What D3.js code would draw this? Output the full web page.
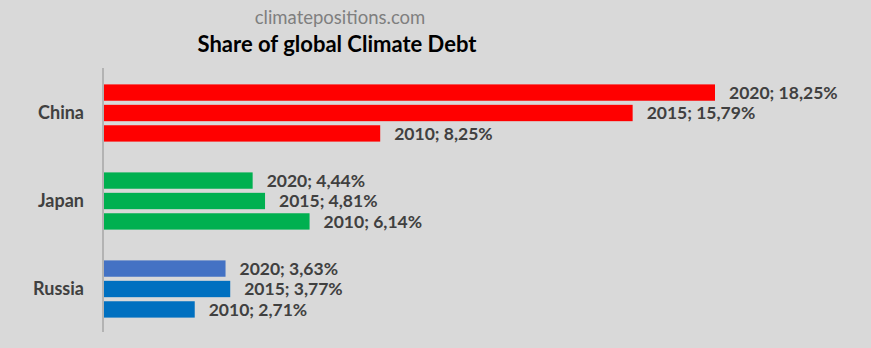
<!DOCTYPE html>
<html><head><meta charset="utf-8">
<script src="https://cdn.jsdelivr.net/npm/d3@7"></script>
<style>
html,body{margin:0;padding:0;background:#d9d9d9;}
svg{display:block;}
</style></head>
<body>
<script>
const categories = ["China", "Japan", "Russia"];
const years = ["2020", "2015", "2010"];
const china = [18.25, 15.79, 8.25];
const japan = [4.44, 4.81, 6.14];
const russia = [3.63, 3.77, 2.71];
const seriesByCategory = {China: china, Japan: japan, Russia: russia};

const colors = {
  China: ["#ff0000", "#ff0000", "#ff0000"],
  Japan: ["#00b050", "#00b050", "#00b050"],
  Russia: ["#4472c4", "#0070c0", "#0070c0"]
};

const W = 871, H = 348;
const svg = d3.select("body").append("svg").attr("width", W).attr("height", H);
svg.append("rect").attr("width", W).attr("height", H).attr("fill", "#d9d9d9");

const font = "Lato, 'Open Sans', sans-serif";
svg.append("text").attr("x", 340).attr("y", 24).attr("text-anchor", "middle")
  .attr("font-family", font).attr("font-size", 18.5).attr("fill", "#7f7f7f")
  .text("climatepositions.com");
svg.append("text").attr("x", 337).attr("y", 52).attr("text-anchor", "middle")
  .attr("font-family", font).attr("font-weight", "bold").attr("font-size", 22).attr("fill", "#000")
  .text("Share of global Climate Debt");

const x0 = 104;
const x = d3.scaleLinear().domain([0, 18.25]).range([x0, 715]);
const y = d3.scaleBand().domain(categories).range([69, 333]).paddingInner(0.35).paddingOuter(0.175);
const yi = d3.scaleBand().domain(years).range([0, y.bandwidth()]).paddingInner(0.2);

const g = svg.append("g");
categories.forEach(c => {
  const vals = seriesByCategory[c];
  const grp = g.append("g").attr("transform", `translate(0,${y(c)})`);
  years.forEach((yr, i) => {
    grp.append("rect").attr("x", x(0)).attr("y", yi(yr))
      .attr("width", x(vals[i]) - x(0)).attr("height", yi.bandwidth())
      .attr("fill", colors[c][i]);
    grp.append("text").attr("x", x(vals[i]) + 14).attr("y", yi(yr) + yi.bandwidth() / 2)
      .attr("dy", "0.36em").attr("font-family", font).attr("font-weight", "bold")
      .attr("font-size", 17.5).attr("fill", "#404040")
      .text(`${yr}; ${d3.format(".2f")(vals[i]).replace(".", ",")}%`);
  });
  svg.append("text").attr("x", 84).attr("y", y(c) + y.bandwidth() / 2)
    .attr("dy", "0.36em").attr("text-anchor", "end")
    .attr("font-family", font).attr("font-weight", "bold").attr("font-size", 18).attr("fill", "#404040")
    .text(c);
});

svg.append("line").attr("x1", 103).attr("x2", 103).attr("y1", 68).attr("y2", 332)
  .attr("stroke", "#a6a6a6").attr("stroke-width", 1.5);
</script>
</body></html>
